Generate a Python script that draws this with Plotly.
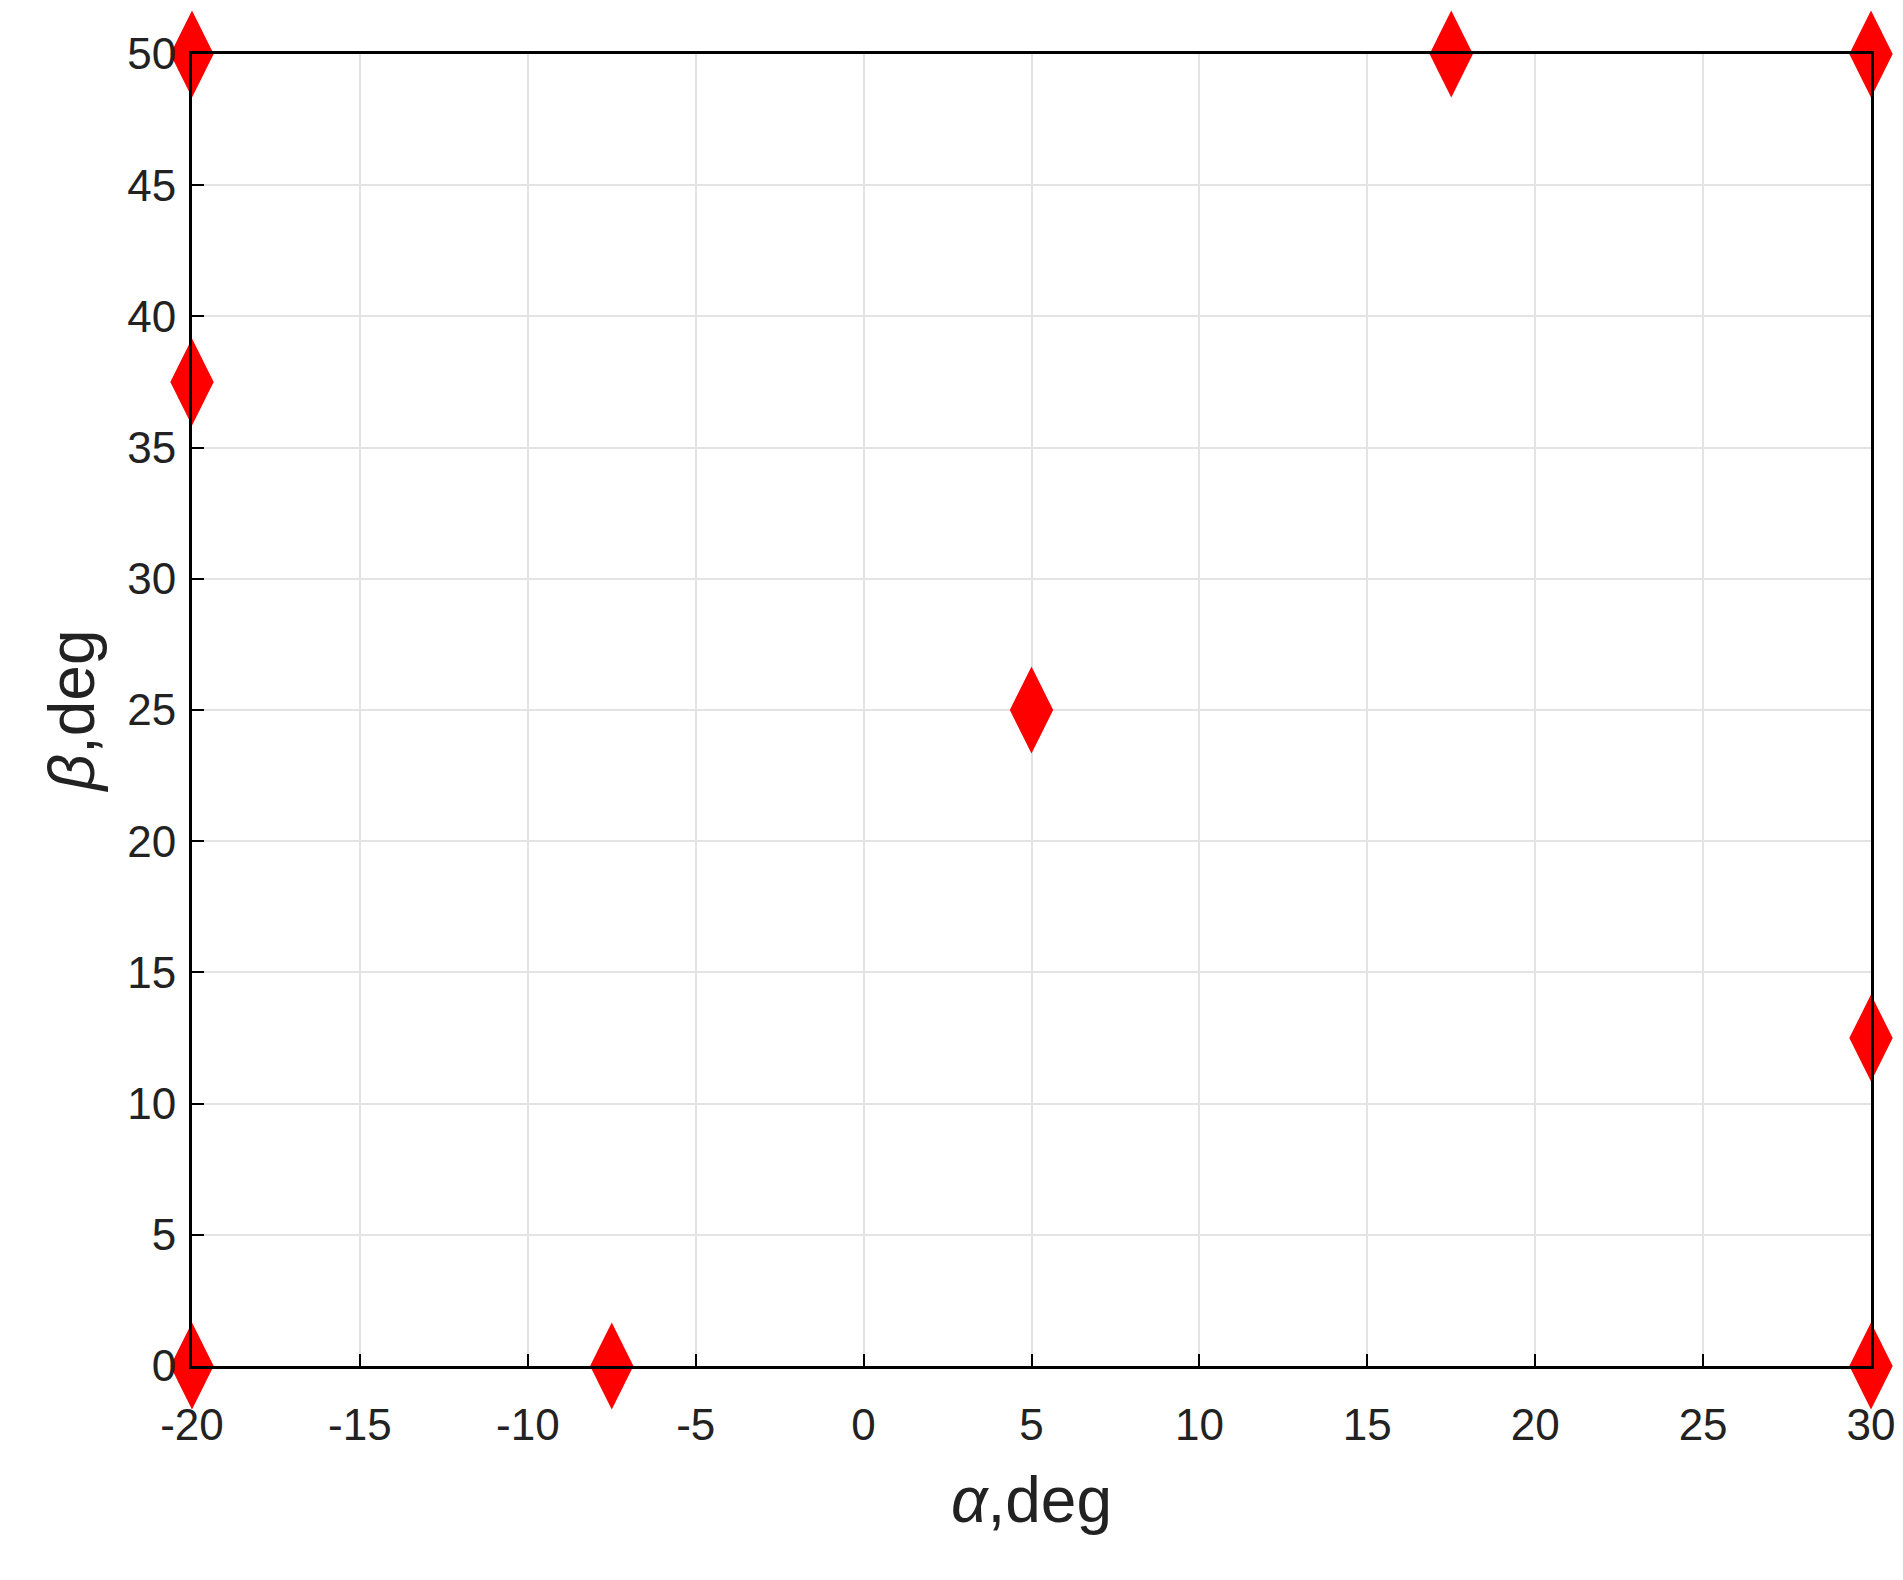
import plotly.graph_objects as go

alpha = [-20, 17.5, 30, -20, 5, 30, -20, -7.5, 30]
beta = [50, 50, 50, 37.5, 25, 12.5, 0, 0, 0]
x_ticks = list(range(-20, 31, 5))
x_labels = [str(v) for v in x_ticks]
y_ticks = list(range(0, 51, 5))

fig = go.Figure(go.Scatter(
    x=alpha, y=beta, mode="markers", cliponaxis=False,
    marker=dict(symbol="diamond-tall", size=62, color="red", line=dict(width=0)),
))
fnt = "Liberation Sans, Arial, sans-serif"
axis_common = dict(showline=True, linecolor="black", linewidth=3, mirror=True,
                   showgrid=True, gridcolor="#e3e3e3", gridwidth=1.5,
                   ticks="inside", ticklen=12, tickcolor="black", tickwidth=2,
                   zeroline=False, tickfont=dict(family=fnt, size=44, color="#222"))
fig.update_xaxes(range=[-20, 30], tickvals=x_ticks, ticktext=x_labels, ticklabelstandoff=18, **axis_common,
                 title=dict(text="<i>α</i>,deg", font=dict(family=fnt, size=64, color="#222"), standoff=30))
fig.update_yaxes(range=[0, 50], tickvals=y_ticks, ticklabelstandoff=4, **axis_common,
                 title=dict(text="<i>β</i>,deg", font=dict(family=fnt, size=64, color="#222"), standoff=12))
fig.update_layout(width=1903, height=1580, plot_bgcolor="white", paper_bgcolor="white",
                  margin=dict(l=184, r=40, t=46, b=222), showlegend=False)
fig.write_html("out.html")
